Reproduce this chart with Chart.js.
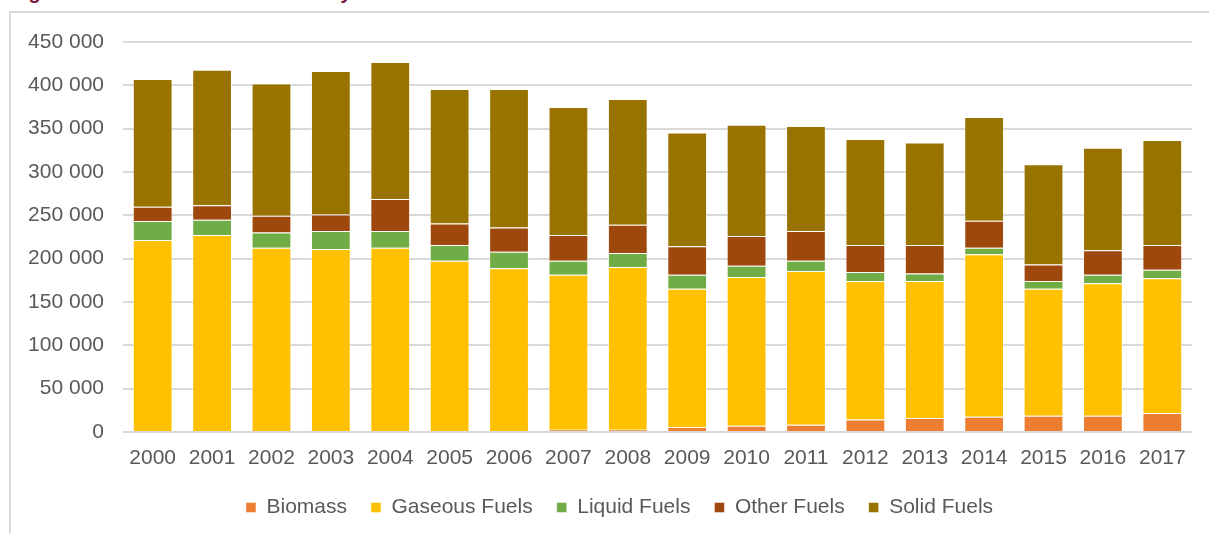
<!DOCTYPE html>
<html>
<head>
<meta charset="utf-8">
<script src="https://cdn.jsdelivr.net/npm/chart.js@4/dist/chart.umd.min.js"></script>
<style>
  html, body { margin: 0; padding: 0; background: #ffffff; width: 1209px; height: 533px; overflow: hidden; }
  #frame { position: absolute; left: 9px; top: 11px; width: 1200px; height: 530px;
           border-top: 2px solid #d9d9d9; border-left: 2px solid #d9d9d9; }
  #title { position: absolute; left: 12px; top: -18px; font: italic bold 20px "Liberation Sans", Arial, sans-serif;
           line-height: 20px; color: #7B1A42; white-space: nowrap; }
  #wrap { position: absolute; left: 0; top: 0; width: 1209px; height: 533px; }
</style>
</head>
<body>
<div id="title">Figure 3: Emissions from Electricity Generation</div>
<div id="frame"></div>
<div id="wrap"><canvas id="c" width="1209" height="533"></canvas></div>
<script>
const years = ["2000","2001","2002","2003","2004","2005","2006","2007","2008","2009","2010","2011","2012","2013","2014","2015","2016","2017"];
const biomass = [0, 0, 0, 0, 0, 0, 0, 2600, 2600, 5800, 7300, 8400, 14500, 16100, 17700, 18800, 18800, 21900];
const gaseousFuels = [221600, 227300, 212700, 211200, 212700, 197700, 188800, 178900, 187800, 159600, 171600, 177400, 159800, 158200, 187300, 146600, 152700, 155400];
const liquidFuels = [21900, 17700, 17600, 20700, 19200, 18100, 19200, 16200, 16200, 16100, 13000, 11900, 10300, 8700, 7700, 8900, 10000, 10000];
const otherFuels = [16500, 16500, 19300, 19200, 37000, 24900, 28100, 29600, 32600, 32700, 34300, 34300, 31200, 32800, 31100, 19100, 28100, 28500];
const solidFuels = [147400, 156600, 152400, 165500, 158100, 155100, 159700, 147700, 145100, 131500, 128400, 121100, 122300, 118100, 119700, 115400, 118500, 121200];
const yTicks = [0, 50000, 100000, 150000, 200000, 250000, 300000, 350000, 400000, 450000];

const FONT = '"Liberation Sans", Arial, sans-serif';
const TXT = '#595959';

function ds(label, data, color) {
  return { label, data, backgroundColor: color, borderColor: 'rgba(255,255,255,0.45)', borderWidth: 1,
           barPercentage: 0.67, categoryPercentage: 1.0 };
}

// shift the legend box so it is centred like the reference (whole-frame centre)
const legendShift = {
  id: 'legendShift',
  afterLayout(chart) {
    const lg = chart.legend;
    if (lg) { lg.left = 47; }
  }
};

new Chart(document.getElementById('c'), {
  type: 'bar',
  data: {
    labels: years,
    datasets: [
      ds('Biomass', biomass, '#ED7D31'),
      ds('Gaseous Fuels', gaseousFuels, '#FFC000'),
      ds('Liquid Fuels', liquidFuels, '#70AD47'),
      ds('Other Fuels', otherFuels, '#9E480E'),
      ds('Solid Fuels', solidFuels, '#997300')
    ]
  },
  plugins: [legendShift],
  options: {
    responsive: false,
    animation: false,
    layout: { padding: { left: 0, right: 17, top: 42, bottom: 5 } },
    plugins: {
      title: { display: false },
      tooltip: { enabled: false },
      legend: {
        position: 'bottom',
        labels: { boxWidth: 10, boxHeight: 10, padding: 24, color: TXT, font: { family: FONT, size: 21 } }
      }
    },
    scales: {
      x: {
        stacked: true,
        afterFit: (s) => { s.height = 41; },
        grid: { display: false, drawTicks: false },
        border: { display: false },
        ticks: { color: TXT, padding: 14, font: { family: FONT, size: 21 }, maxRotation: 0, autoSkip: false }
      },
      y: {
        stacked: true,
        min: 0, max: 450000,
        afterBuildTicks: (s) => { s.ticks = yTicks.map(v => ({ value: v })); },
        afterFit: (s) => { s.width = 123; },
        grid: { color: '#d9d9d9', lineWidth: 2, drawTicks: false },
        border: { display: false },
        ticks: {
          color: TXT, padding: 19, font: { family: FONT, size: 21 },
          callback: (v) => String(v).replace(/\B(?=(\d{3})+(?!\d))/g, ' ')
        }
      }
    }
  }
});
</script>
</body>
</html>
